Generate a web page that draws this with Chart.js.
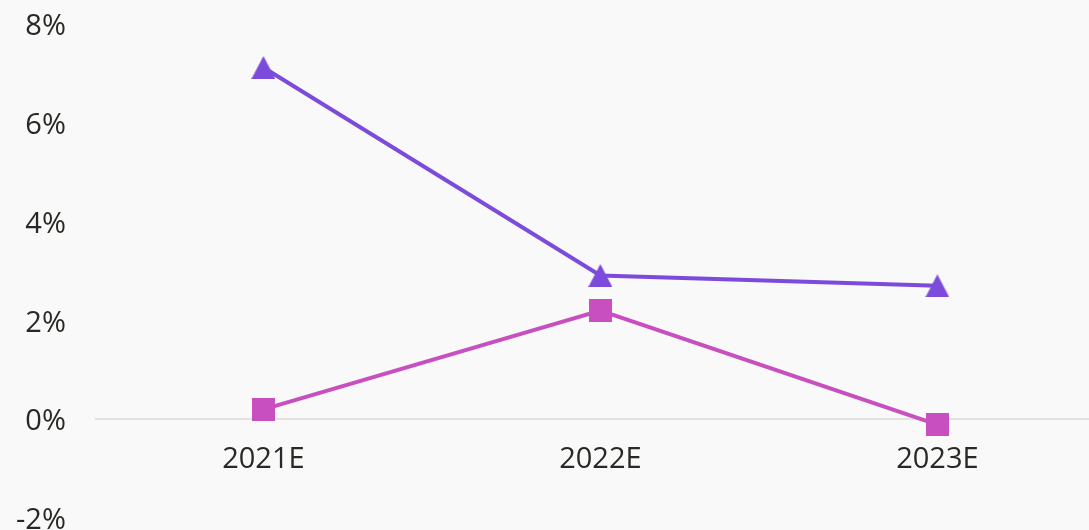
<!DOCTYPE html>
<html>
<head>
<meta charset="utf-8">
<script src="https://cdn.jsdelivr.net/npm/chart.js@4"></script>
<style>
  html, body { margin:0; padding:0; background:#f9f9f9; overflow:hidden; }
  canvas { display:block; }
</style>
</head>
<body>
<canvas id="chart" width="1089" height="530"></canvas>
<script>
// data
const years = ['2021E', '2022E', '2023E'];
const seriesTriangle = [7.12, 2.91, 2.70];
const seriesSquare = [0.20, 2.20, -0.11];
const yTicks = [-2, 0, 2, 4, 6, 8];

const purple = '#7d4bdb', pink = '#c84fbf', ink = '#272a24';
const clear = 'rgba(0,0,0,0)';

// triangle centred on its bounding box (reference style)
function triangleMark(color, w, h){
  const c = document.createElement('canvas');
  c.width = w; c.height = h;
  const g = c.getContext('2d');
  g.fillStyle = color;
  g.beginPath(); g.moveTo(w/2, 0); g.lineTo(w, h); g.lineTo(0, h); g.closePath(); g.fill();
  return c;
}
function squareMark(color, s){
  const c = document.createElement('canvas');
  c.width = s; c.height = s;
  const g = c.getContext('2d');
  g.fillStyle = color; g.fillRect(0, 0, s, s);
  return c;
}

const fam = "'Open Sans', 'Noto Sans', sans-serif";
const asPoints = arr => arr.map((v, i) => ({ x: i, y: v }));

new Chart(document.getElementById('chart'), {
  type: 'line',
  data: {
    datasets: [
      { label: 'A', data: asPoints(seriesTriangle), borderColor: purple, backgroundColor: purple, borderWidth: 4,
        pointStyle: triangleMark(purple, 24, 23), pointRadius: 12, tension: 0 },
      { label: 'B', data: asPoints(seriesSquare), borderColor: pink, backgroundColor: pink, borderWidth: 4,
        pointStyle: squareMark(pink, 23), pointRadius: 12, tension: 0 }
    ]
  },
  options: {
    responsive: false, devicePixelRatio: 1, animation: false,
    layout: { autoPadding: false, padding: { top: 24, bottom: 12, left: 16, right: 0 } },
    plugins: { legend: { display: false }, tooltip: { enabled: false } },
    scales: {
      x: {
        type: 'linear',
        position: { y: 0 },
        // the plot runs off the right edge in the reference
        min: -0.5, max: 2.45,
        afterBuildTicks: s => { s.ticks = years.map((_, i) => ({ value: i })); },
        grid: { display: true, color: clear, tickColor: clear, drawTicks: true, tickLength: 23 },
        border: { display: false },
        ticks: { color: ink, font: { family: fam, size: 29 }, padding: 0, maxRotation: 0,
                 callback: v => years[v] },
        afterFit: s => { s.paddingLeft = 0; s.paddingRight = 0; }
      },
      y: {
        min: -2, max: 8,
        afterBuildTicks: s => { s.ticks = yTicks.map(v => ({ value: v })); },
        grid: { lineWidth: 2, color: c => c.tick && c.tick.value === 0 ? '#e3e3dd' : clear,
                tickColor: clear, drawTicks: true, tickLength: 29 },
        border: { display: false },
        ticks: { color: ink, font: { family: fam, size: 29 }, padding: 0, labelOffset: 3,
                 callback: v => v + '%' },
        afterFit: s => { s.paddingTop = 0; s.paddingBottom = 0; }
      }
    }
  }
});
</script>
</body>
</html>
